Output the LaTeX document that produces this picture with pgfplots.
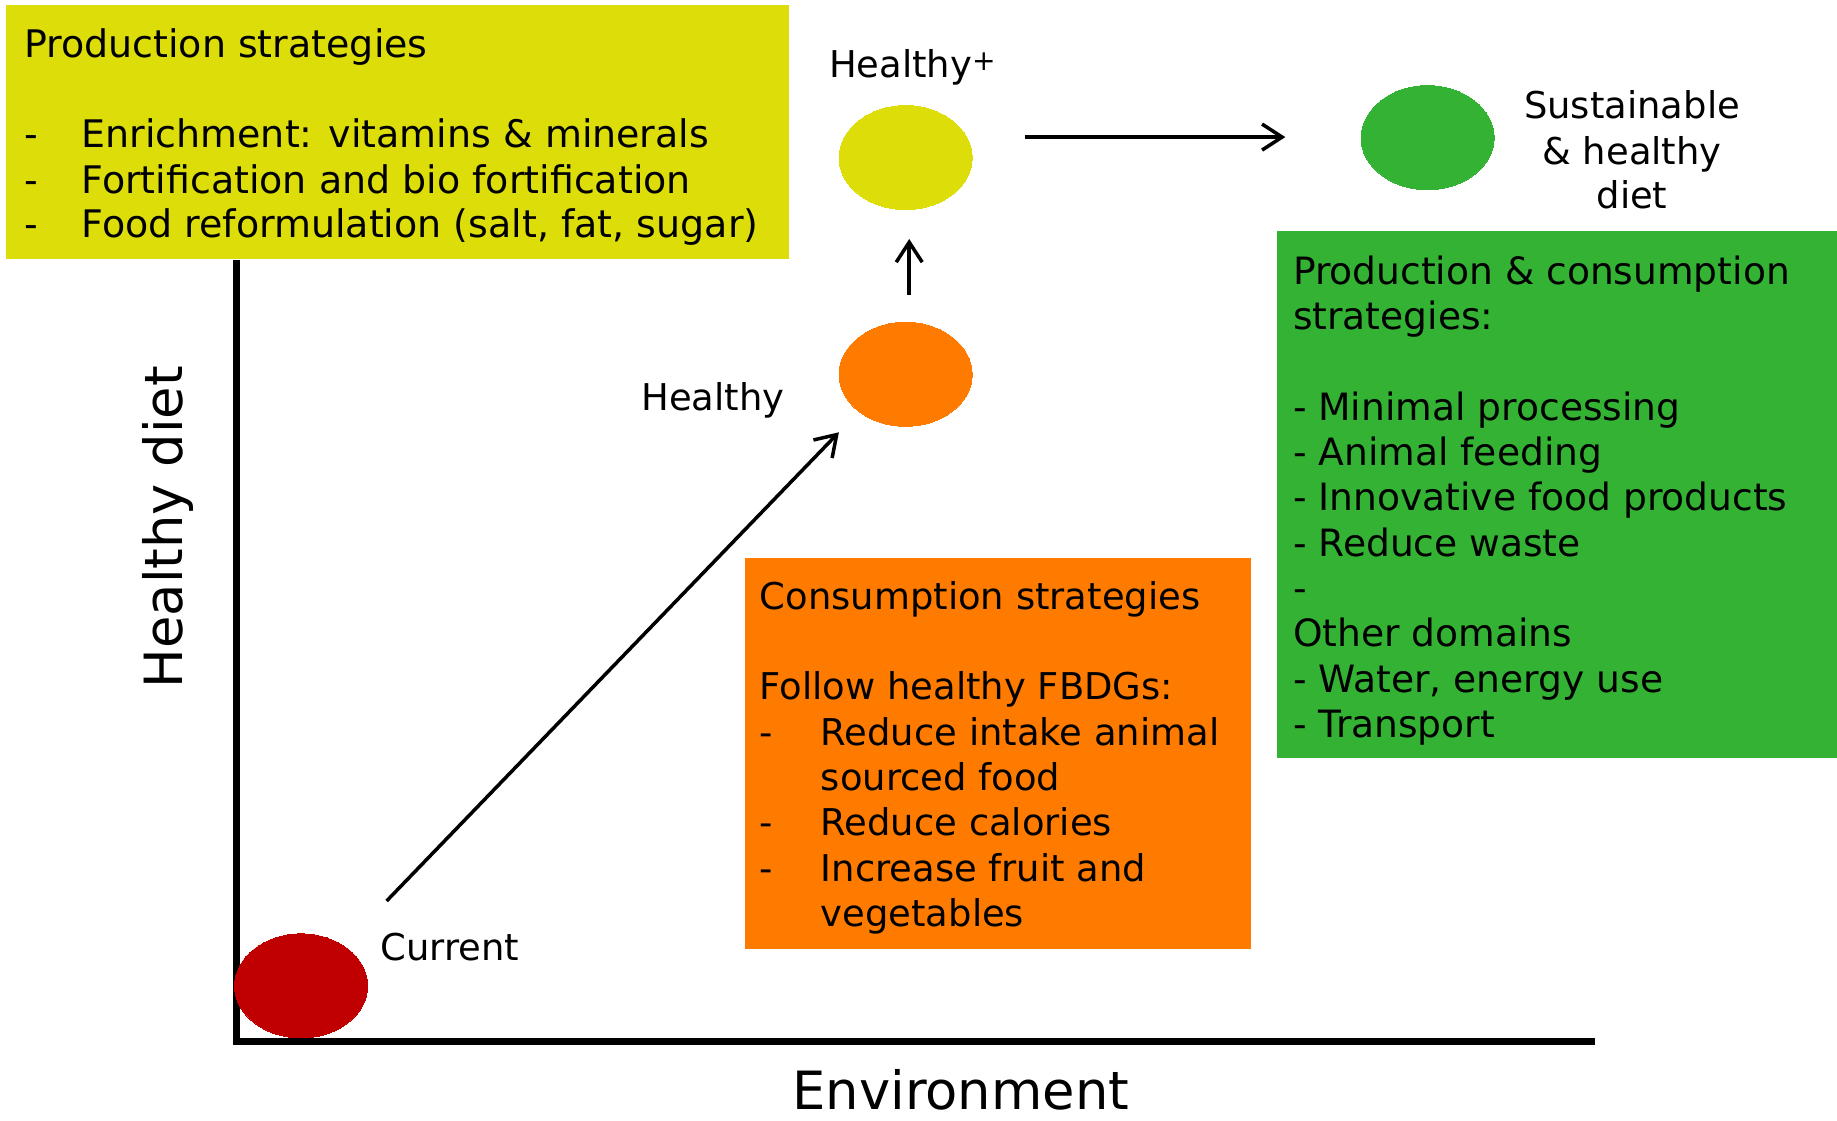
\documentclass[border=0pt]{standalone}
\usepackage{fontspec}
\setmainfont{DejaVu Sans}
\usepackage{pgfplots}
\pgfplotsset{compat=1.18}
\usetikzlibrary{arrows.meta}
\definecolor{ycol}{RGB}{221,221,10}
\definecolor{gcol}{RGB}{52,178,52}
\definecolor{ocol}{RGB}{255,123,0}
\definecolor{rcol}{RGB}{192,0,0}
\newcommand{\tf}{\fontsize{10.5}{12.8}\selectfont}
\newcommand{\tfy}{\fontsize{10.8}{12.8}\selectfont}
\newcommand{\tfg}{\fontsize{10.7}{12.8}\selectfont}
\newcommand{\bigf}{\fontsize{15}{18}\selectfont}
\begin{document}
\begin{tikzpicture}
\begin{axis}[width=183.7mm, height=112mm, scale only axis,
  xmin=0, xmax=1837, ymin=0, ymax=1120, axis lines=none, ticks=none, clip=false]
\addplot[draw=none] coordinates {(0,0) (1837,1120)};
% axis lines of the diagram
\addplot[black, line width=2pt] coordinates {(236.7,860) (236.7,75)};
\addplot[black, line width=2pt] coordinates {(233,78.5) (1594.5,78.5)};
% boxes
\addplot[fill=ycol, draw=none] coordinates {(5.9,1115.3) (788.5,1115.3) (788.5,861.1) (5.9,861.1)} --cycle;
\addplot[fill=gcol, draw=none] coordinates {(1277,889.2) (1837,889.2) (1837,362) (1277,362)} --cycle;
\addplot[fill=ocol, draw=none] coordinates {(745,562.3) (1251,562.3) (1251,171) (745,171)} --cycle;
% ellipses
\addplot[rcol, only marks, mark=*, mark size=14.8pt, mark options={draw=rcol, fill=rcol, line width=0pt, xscale=1.28}] coordinates {(301.1,134.1)};
\addplot[ocol, only marks, mark=*, mark size=14.8pt, mark options={draw=ocol, fill=ocol, line width=0pt, xscale=1.28}] coordinates {(905.6,745.7)};
\addplot[ycol, only marks, mark=*, mark size=14.8pt, mark options={draw=ycol, fill=ycol, line width=0pt, xscale=1.28}] coordinates {(905.6,962.4)};
\addplot[gcol, only marks, mark=*, mark size=14.8pt, mark options={draw=gcol, fill=gcol, line width=0pt, xscale=1.28}] coordinates {(1427.6,982.3)};
% arrows
\addplot[black, line width=1pt, -{Straight Barb[length=2mm,width=2.6mm]}] coordinates {(386.6,219) (838.9,687.7)};
\addplot[black, line width=1pt, -{Straight Barb[length=2mm,width=2.6mm]}] coordinates {(909.2,824.8) (909.2,881)};
\addplot[black, line width=1pt, -{Straight Barb[length=2mm,width=2.6mm]}] coordinates {(1025.2,982.9) (1285.3,982.9)};
% yellow box text
\node[anchor=mid west, font=\tfy, inner sep=0] at (23.4,1072.2) {Production strategies};
\node[anchor=mid west, font=\tfy, inner sep=0] at (23.4,981.9) {-};
\node[anchor=mid west, font=\tfy, inner sep=0] at (80.8,981.9) {Enrichment: vitamins \& minerals};
\node[anchor=mid west, font=\tfy, inner sep=0] at (23.4,936.2) {-};
\node[anchor=mid west, font=\tfy, inner sep=0] at (80.8,936.2) {Fortification and bio fortification};
\node[anchor=mid west, font=\tfy, inner sep=0] at (23.4,891.7) {-};
\node[anchor=mid west, font=\tfy, inner sep=0] at (80.8,891.7) {Food reformulation (salt, fat, sugar)};
% green box text
\node[anchor=mid west, font=\tfg, inner sep=0] at (1292.3,844.9) {Production \& consumption};
\node[anchor=mid west, font=\tfg, inner sep=0] at (1292.3,800.3) {strategies:};
\node[anchor=mid west, font=\tfg, inner sep=0] at (1292.3,709.0) {- Minimal processing};
\node[anchor=mid west, font=\tfg, inner sep=0] at (1292.3,664.4) {- Animal feeding};
\node[anchor=mid west, font=\tfg, inner sep=0] at (1292.3,618.7) {- Innovative food products};
\node[anchor=mid west, font=\tfg, inner sep=0] at (1292.3,573.0) {- Reduce waste};
\node[anchor=mid west, font=\tfg, inner sep=0] at (1292.3,528.5) {-};
\node[anchor=mid west, font=\tfg, inner sep=0] at (1292.3,482.8) {Other domains};
\node[anchor=mid west, font=\tfg, inner sep=0] at (1292.3,437.1) {- Water, energy use};
\node[anchor=mid west, font=\tfg, inner sep=0] at (1292.3,392.6) {- Transport};
% orange box text
\node[anchor=mid west, font=\tf, inner sep=0] at (759.2,520.3) {Consumption strategies};
\node[anchor=mid west, font=\tf, inner sep=0] at (759.2,430.1) {Follow healthy FBDGs:};
\node[anchor=mid west, font=\tf, inner sep=0] at (759.2,384.4) {-};
\node[anchor=mid west, font=\tf, inner sep=0] at (820.1,384.4) {Reduce intake animal};
\node[anchor=mid west, font=\tf, inner sep=0] at (820.1,338.7) {sourced food};
\node[anchor=mid west, font=\tf, inner sep=0] at (759.2,294.2) {-};
\node[anchor=mid west, font=\tf, inner sep=0] at (820.1,294.2) {Reduce calories};
\node[anchor=mid west, font=\tf, inner sep=0] at (759.2,248.5) {-};
\node[anchor=mid west, font=\tf, inner sep=0] at (820.1,248.5) {Increase fruit and};
\node[anchor=mid west, font=\tf, inner sep=0] at (820.1,202.8) {vegetables};
% labels
\node[anchor=mid west, font=\tf, inner sep=0] at (828.3,1052.2) {Healthy{\fontsize{8}{8}\selectfont\raisebox{0.45ex}{+}}};
\node[anchor=mid east, font=\tf, inner sep=0] at (785,719.5) {Healthy};
\node[anchor=mid west, font=\tf, inner sep=0] at (379.6,168.9) {Current};
\node[anchor=mid, font=\tf, inner sep=0] at (1632,1011.2) {Sustainable};
\node[anchor=mid, font=\tf, inner sep=0] at (1632,965.5) {\& healthy};
\node[anchor=mid, font=\tf, inner sep=0] at (1632,921.0) {diet};
\node[rotate=90, font=\bigf, inner sep=0] at (167.5,592.8) {Healthy diet};
\node[font=\bigf, inner sep=0] at (960.7,30) {Environment};
\end{axis}
\end{tikzpicture}
\end{document}
